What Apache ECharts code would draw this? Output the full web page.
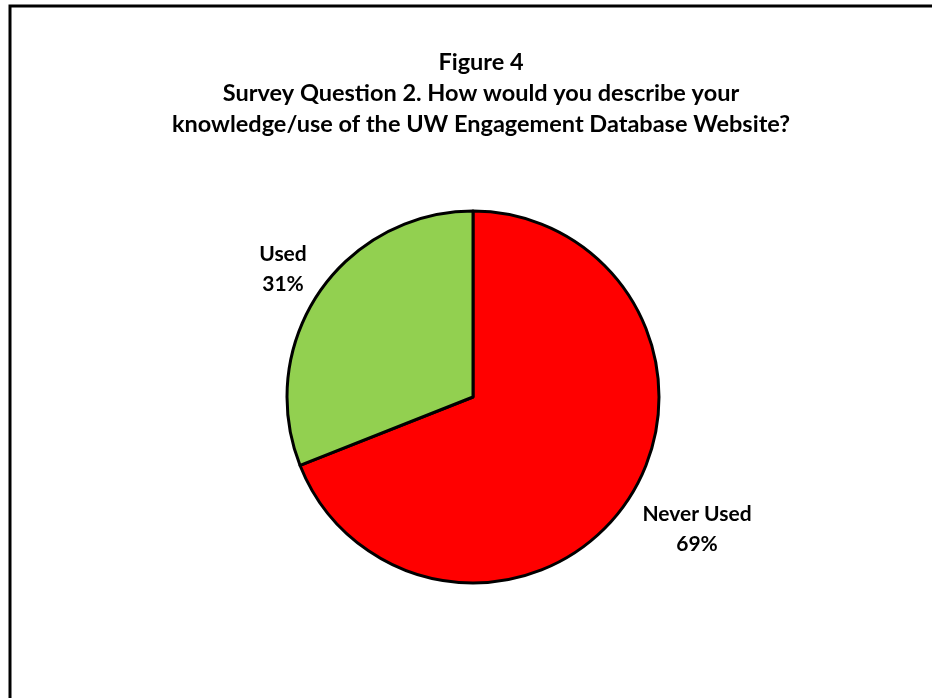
<!DOCTYPE html>
<html>
<head>
<meta charset="utf-8">
<script src="https://cdn.jsdelivr.net/npm/echarts@6/dist/echarts.min.js"></script>
<style>
html,body{margin:0;padding:0;background:#fff;}
#chart{width:932px;height:698px;}
</style>
</head>
<body>
<div id="chart"></div>
<script>
const titleLines = [
  'Figure 4',
  'Survey Question 2. How would you describe your',
  'knowledge/use of the UW Engagement Database Website?'
];
const categories = ['Never Used', 'Used'];
const values = [69, 31];
const colors = ['#FF0000', '#92D050'];
const labelPos = [[697, 529], [283, 269]];

const chart = echarts.init(document.getElementById('chart'));
const font = 'Lato, "Open Sans", sans-serif';
chart.setOption({
  animation: false,
  title: {
    text: titleLines.join('\n'),
    left: 476,
    top: 42,
    textAlign: 'center',
    textStyle: {fontFamily: font, fontWeight: 'bold', fontSize: 23.5, lineHeight: 31, color: '#000'}
  },
  graphic: [{
    type: 'polyline',
    shape: {points: [[10, 700], [10, 6], [934, 6]]},
    style: {stroke: '#000', lineWidth: 3, fill: null}
  }],
  series: [{
    type: 'pie',
    center: [473, 397],
    radius: 186,
    startAngle: 90,
    clockwise: true,
    data: categories.map((c, i) => ({name: c, value: values[i], itemStyle: {color: colors[i]}})),
    itemStyle: {borderColor: '#000', borderWidth: 3},
    label: {
      show: true,
      formatter: '{b}\n{c}%',
      fontFamily: font,
      fontWeight: 'bold',
      fontSize: 21,
      lineHeight: 30,
      color: '#000',
      align: 'center'
    },
    labelLine: {show: false},
    labelLayout: function (p) {
      const pos = labelPos[p.dataIndex];
      return {x: pos[0], y: pos[1], align: 'center', verticalAlign: 'middle'};
    },
    emphasis: {disabled: true}
  }]
});
</script>
</body>
</html>
